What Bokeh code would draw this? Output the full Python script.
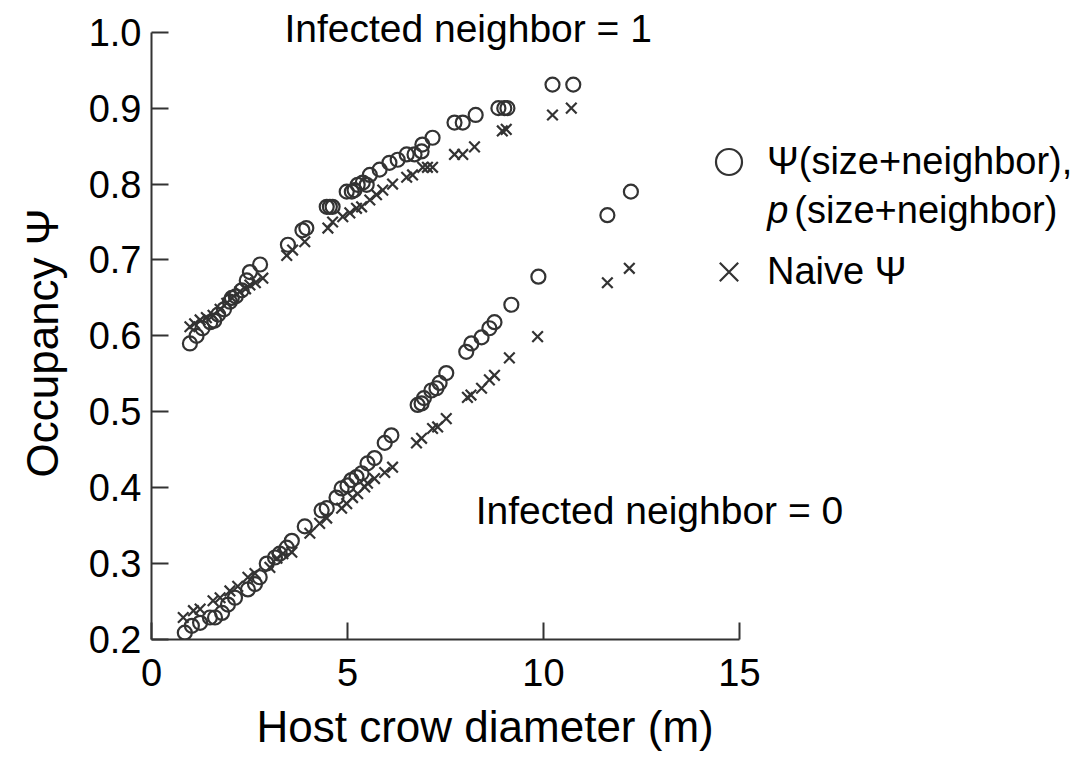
from bokeh.plotting import figure
from bokeh.models import (Range1d, FixedTicker, PrintfTickFormatter, Label,
                          Legend, LegendItem, Title)
from bokeh.embed import file_html
from bokeh.resources import INLINE

# ---------------- data ----------------
# Infected neighbor = 1 : Psi(size+neighbor), p(size+neighbor)  (circles)
x_n1_psi = [0.98, 1.15, 1.3, 1.5, 1.6, 1.7, 1.85, 2.0, 2.05, 2.15, 2.3, 2.43, 2.51, 2.77,
            3.48, 3.85, 3.95, 4.47, 4.55, 4.62, 4.98, 5.11, 5.18, 5.26, 5.39, 5.49, 5.57,
            5.82, 6.07, 6.28, 6.51, 6.71, 6.89, 6.91, 7.17, 7.73, 7.94, 8.27, 8.85, 9.0,
            9.08, 10.23, 10.76]
y_n1_psi = [0.590, 0.600, 0.610, 0.618, 0.620, 0.628, 0.635, 0.645, 0.650, 0.652, 0.660,
            0.673, 0.684, 0.694, 0.720, 0.739, 0.742, 0.770, 0.770, 0.770, 0.790, 0.790,
            0.792, 0.799, 0.802, 0.799, 0.812, 0.819, 0.828, 0.832, 0.839, 0.839, 0.843,
            0.852, 0.861, 0.881, 0.881, 0.891, 0.900, 0.900, 0.900, 0.931, 0.931]
# Infected neighbor = 1 : naive Psi (crosses)
x_n1_naive = [0.98, 1.1, 1.24, 1.4, 1.57, 1.75, 1.92, 2.05, 2.25, 2.4, 2.51, 2.65, 2.84,
              3.45, 3.6, 3.91, 4.5, 4.62, 4.88, 5.06, 5.23, 5.36, 5.57, 5.74, 5.9, 6.15,
              6.51, 6.66, 6.92, 7.04, 7.17, 7.73, 7.94, 8.24, 8.95, 9.05, 10.23, 10.71]
y_n1_naive = [0.612, 0.616, 0.621, 0.624, 0.627, 0.635, 0.643, 0.650, 0.658, 0.662, 0.667,
              0.670, 0.676, 0.706, 0.713, 0.724, 0.742, 0.750, 0.757, 0.762, 0.768, 0.770,
              0.779, 0.786, 0.792, 0.800, 0.809, 0.812, 0.822, 0.822, 0.822, 0.839, 0.839,
              0.849, 0.870, 0.872, 0.891, 0.900]
# Infected neighbor = 0 : Psi(size+neighbor) (circles)
x_n0_psi = [0.85, 1.03, 1.24, 1.49, 1.62, 1.8, 1.95, 2.13, 2.46, 2.64, 2.76, 2.94, 3.15,
            3.27, 3.45, 3.58, 3.91, 4.34, 4.47, 4.72, 4.85, 5.0, 5.1, 5.23, 5.36, 5.51,
            5.69, 5.95, 6.12, 6.79, 6.89, 6.95, 7.14, 7.27, 7.35, 7.52, 8.03, 8.16, 8.42,
            8.62, 8.75, 9.18, 9.87, 11.63, 12.23]
y_n0_psi = [0.209, 0.218, 0.222, 0.229, 0.229, 0.235, 0.246, 0.255, 0.266, 0.273, 0.282,
            0.300, 0.308, 0.313, 0.321, 0.330, 0.349, 0.370, 0.373, 0.387, 0.399, 0.403,
            0.410, 0.414, 0.419, 0.432, 0.439, 0.459, 0.469, 0.509, 0.511, 0.518, 0.528,
            0.531, 0.538, 0.551, 0.579, 0.590, 0.598, 0.610, 0.618, 0.641, 0.678, 0.759,
            0.790]
# Infected neighbor = 0 : naive Psi (crosses)
x_n0_naive = [0.81, 1.07, 1.24, 1.57, 1.75, 2.0, 2.2, 2.46, 2.64, 3.02, 3.2, 3.35, 3.58,
              4.04, 4.29, 4.47, 4.85, 4.98, 5.13, 5.26, 5.44, 5.51, 5.69, 5.95, 6.15,
              6.76, 6.89, 7.17, 7.3, 7.52, 8.06, 8.15, 8.42, 8.62, 8.75, 9.13, 9.85,
              11.63, 12.19]
y_n0_naive = [0.229, 0.238, 0.240, 0.251, 0.255, 0.264, 0.270, 0.282, 0.287, 0.295, 0.307,
              0.313, 0.315, 0.340, 0.353, 0.360, 0.373, 0.379, 0.387, 0.392, 0.401, 0.406,
              0.412, 0.420, 0.427, 0.459, 0.465, 0.478, 0.480, 0.491, 0.519, 0.522, 0.531,
              0.542, 0.548, 0.571, 0.599, 0.670, 0.689]

x_ticks = [0, 5, 10, 15]
y_ticks = [0.2, 0.3, 0.4, 0.5, 0.6, 0.7, 0.8, 0.9, 1.0]

FONT = "Liberation Sans"
INK = "#333333"

p = figure(width=1080, height=763, output_backend="svg", toolbar_location=None,
           x_range=Range1d(0, 23.70), y_range=Range1d(0.2, 1.0418),
           min_border_left=151, min_border_right=0, min_border_top=0,
           min_border_bottom=124)
p.outline_line_color = None
p.xgrid.visible = False
p.ygrid.visible = False
p.background_fill_color = "white"

for ax, bounds, ticks, fmt in ((p.xaxis[0], (0, 15), x_ticks, "%d"),
                               (p.yaxis[0], (0.2, 1.0), y_ticks, "%.1f")):
    ax.bounds = bounds
    ax.ticker = FixedTicker(ticks=ticks)
    ax.formatter = PrintfTickFormatter(format=fmt)
    ax.axis_line_color = INK
    ax.axis_line_width = 2
    ax.major_tick_line_color = INK
    ax.major_tick_line_width = 2
    ax.major_tick_in = 17
    ax.major_tick_out = 0
    ax.minor_tick_line_color = None
    ax.major_label_text_font = FONT
    ax.major_label_text_font_size = "38px"
    ax.major_label_text_color = "black"
p.xaxis.major_label_standoff = 19
p.yaxis.major_label_standoff = 10

r_c1 = p.scatter(x_n1_psi, y_n1_psi, marker="circle", size=14, fill_color=None,
                 line_color=INK, line_width=2.2)
r_x1 = p.scatter(x_n1_naive, y_n1_naive, marker="x", size=15, line_color=INK,
                 line_width=2.2)
p.scatter(x_n0_psi, y_n0_psi, marker="circle", size=14, fill_color=None,
          line_color=INK, line_width=2.2)
p.scatter(x_n0_naive, y_n0_naive, marker="x", size=15, line_color=INK, line_width=2.2)

legend = Legend(items=[LegendItem(label="Ψ(size+neighbor),", renderers=[r_c1]),
                       LegendItem(label="Naive Ψ", renderers=[r_x1])],
                location=(545, 335), glyph_width=65, glyph_height=65, spacing=45,
                label_standoff=6, padding=0, margin=0,
                border_line_color=None, background_fill_alpha=0,
                label_text_font=FONT, label_text_font_size="38px",
                label_text_color="black", label_text_baseline="middle")
p.add_layout(legend, "center")

def lab(x, y, text, size, **kw):
    p.add_layout(Label(x=x, y=y, text=text, text_font=FONT, text_font_size=size,
                       text_color="black", **kw))

lab(15.71, 0.766, "p", "38px", text_font_style="italic", text_baseline="middle")
lab(16.40, 0.766, "(size+neighbor)", "38px", text_baseline="middle")
lab(3.39, 1.0049, "Infected neighbor = 1", "39px", text_baseline="alphabetic")
lab(8.27, 0.3695, "Infected neighbor = 0", "39px", text_baseline="alphabetic")

xt = Title(text="Host crow diameter (m)", align="left", offset=105, standoff=23,
           text_font=FONT, text_font_size="44px", text_font_style="normal",
           text_color="black", text_line_height=0.8, padding=0)
p.add_layout(xt, "below")
yt = Title(text="Occupancy Ψ", align="left", offset=162, standoff=34,
           vertical_align="top", padding=0,
           text_font=FONT, text_font_size="44px", text_font_style="normal",
           text_color="black")
p.add_layout(yt, "left")

open("out.html", "w").write(file_html(p, INLINE))
